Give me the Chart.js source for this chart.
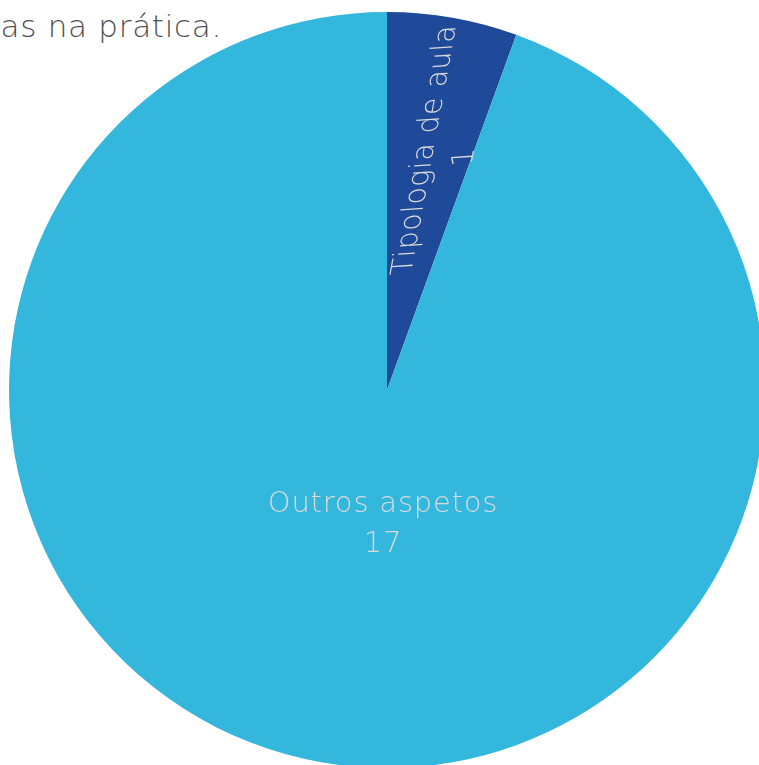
<!DOCTYPE html>
<html>
<head>
<meta charset="utf-8">
<script src="https://cdn.jsdelivr.net/npm/chart.js@4"></script>
<style>
  html, body { margin: 0; padding: 0; background: #ffffff; overflow: hidden; }
  body { width: 759px; height: 765px; position: relative; }
  #title {
    position: absolute; right: 537px; top: 11px;
    font-family: "DejaVu Sans", sans-serif; font-weight: 200;
    font-size: 31px; line-height: 31px; color: #505050; white-space: nowrap;
    letter-spacing: 0.7px;
  }
  #wrap { position: absolute; left: 9px; top: 12px; width: 756px; height: 756px; }
</style>
</head>
<body>
<div id="title">as na prática.</div>
<div id="wrap"><canvas id="c" width="756" height="756"></canvas></div>
<script>
const categories = ["Tipologia de aula", "Outros aspetos"];
const values = [1, 17];
const colors = ["#1f4999", "#33b7dc"];

// label placement relative to each arc: angle offset from mid-angle (deg), radius fraction,
// whether the text follows the slice's mid direction, extra rotation, glyph slant, letter spacing
const labelStyle = [
  { dAngle: 3.9, rFrac: 0.645, rotate: true, dRot: 0.3, slant: 0.25, spacing: '0.4px' },
  { dAngle: -8.3, rFrac: 0.355, rotate: false, dRot: 0, slant: 0, spacing: '0.8px' }
];

const labelPlugin = {
  id: 'sliceLabels',
  afterDatasetsDraw(chart) {
    const ctx = chart.ctx;
    const meta = chart.getDatasetMeta(0);
    meta.data.forEach((arc, i) => {
      const st = labelStyle[i];
      const base = (arc.startAngle + arc.endAngle) / 2;
      const mid = base + st.dAngle * Math.PI / 180;
      const r = arc.outerRadius * st.rFrac;
      const x = arc.x + Math.cos(mid) * r;
      const y = arc.y + Math.sin(mid) * r;
      ctx.save();
      ctx.translate(x, y);
      if (st.rotate) ctx.rotate(base + st.dRot * Math.PI / 180);
      ctx.fillStyle = "#dadada";
      ctx.font = '200 29px "DejaVu Sans", sans-serif';
      try { ctx.letterSpacing = st.spacing; } catch (e) {}
      ctx.textAlign = 'center';
      ctx.textBaseline = 'middle';
      const lines = [categories[i], String(values[i])];
      lines.forEach((t, k) => {
        const ly = (k - 0.5) * 40;
        ctx.save();
        ctx.translate(0, ly);
        if (st.slant) ctx.transform(1, 0, st.slant, 1, 0, 0);
        ctx.fillText(t, 0, 0);
        ctx.restore();
      });
      ctx.restore();
    });
  }
};

new Chart(document.getElementById('c'), {
  type: 'pie',
  data: {
    labels: categories,
    datasets: [{ data: values, backgroundColor: colors, borderWidth: 0 }]
  },
  options: {
    responsive: false,
    animation: false,
    layout: { padding: 0 },
    plugins: { legend: { display: false }, tooltip: { enabled: false }, title: { display: false } }
  },
  plugins: [labelPlugin]
});
</script>
</body>
</html>
